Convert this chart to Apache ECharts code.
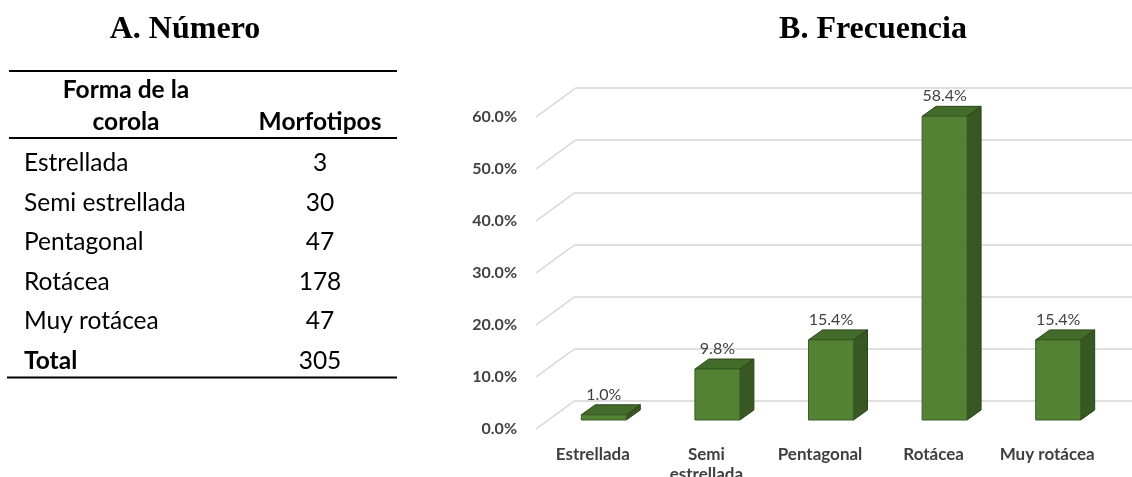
<!DOCTYPE html>
<html><head><meta charset="utf-8">
<script src="https://cdn.jsdelivr.net/npm/echarts@6/dist/echarts.min.js"></script>
<style>html,body{margin:0;padding:0;background:#fff}#c{width:1132px;height:477px}</style>
</head><body><div id="c"></div>
<script>
// ---- data ----
const titleA = 'A. Número';
const titleB = 'B. Frecuencia';
const tableHeaderForm = 'Forma de la\ncorola';
const tableHeaderCount = 'Morfotipos';
const tableForms = ['Estrellada', 'Semi estrellada', 'Pentagonal', 'Rotácea', 'Muy rotácea'];
const tableCounts = [3, 30, 47, 178, 47];
const totalLabel = 'Total';
const totalCount = 305;
const chartCategories = ['Estrellada', 'Semi\nestrellada', 'Pentagonal', 'Rotácea', 'Muy rotácea'];
const frequencies = [0.010, 0.098, 0.154, 0.584, 0.154];
const yTicks = [0, 0.1, 0.2, 0.3, 0.4, 0.5, 0.6];

// ---- layout / style ----
const SANS = 'Lato, "Open Sans", sans-serif';
const SERIF = '"Liberation Serif", "DejaVu Serif", serif';
const tableFont = 24.5;
const rowTop = 163.5, rowStep = 39.5;
const depthDX = 39, depthDY = 28.5;   // perspective of the walls
const barDX = 14, barDY = 10;         // bar depth

const chart = echarts.init(document.getElementById('c'), null, {renderer: 'canvas'});

const graphics = [];
// table rules
[[71, 9], [138, 9], [377.5, 7]].forEach(([y, x0]) => {
  graphics.push({type: 'line', shape: {x1: x0, y1: y, x2: 397, y2: y}, style: {stroke: '#000', lineWidth: 2}});
});
graphics.push({type: 'text', x: 126, y: 106, style: {text: tableHeaderForm, font: 'bold ' + tableFont + 'px ' + SANS, align: 'center', verticalAlign: 'middle', lineHeight: 32, fill: '#000'}});
graphics.push({type: 'text', x: 320, y: 122, style: {text: tableHeaderCount, font: 'bold ' + tableFont + 'px ' + SANS, align: 'center', verticalAlign: 'middle', fill: '#000'}});
tableForms.forEach((f, i) => {
  const y = rowTop + i * rowStep;
  graphics.push({type: 'text', x: 24, y: y, style: {text: f, font: tableFont + 'px ' + SANS, align: 'left', verticalAlign: 'middle', fill: '#000'}});
  graphics.push({type: 'text', x: 320, y: y, style: {text: String(tableCounts[i]), font: tableFont + 'px ' + SANS, align: 'center', verticalAlign: 'middle', fill: '#000'}});
});
{
  const y = rowTop + tableForms.length * rowStep;
  graphics.push({type: 'text', x: 24, y: y, style: {text: totalLabel, font: 'bold ' + tableFont + 'px ' + SANS, align: 'left', verticalAlign: 'middle', fill: '#000'}});
  graphics.push({type: 'text', x: 320, y: y, style: {text: String(totalCount), font: tableFont + 'px ' + SANS, align: 'center', verticalAlign: 'middle', fill: '#000'}});
}
graphics.push({type: 'text', x: 185, y: 30, style: {text: titleA, font: 'bold 32px ' + SERIF, align: 'center', verticalAlign: 'middle', fill: '#000'}});
graphics.push({type: 'text', x: 873, y: 30, style: {text: titleB, font: 'bold 32px ' + SERIF, align: 'center', verticalAlign: 'middle', fill: '#000'}});

const pct = v => (v * 100).toFixed(1) + '%';
const yBase = {type: 'value', min: 0, max: 0.6, interval: 0.1};

const option = {
  animation: false,
  backgroundColor: '#fff',
  graphic: graphics,
  grid: [
    {left: 575, right: 0, top: 88, height: 313, containLabel: false, outerBoundsMode: 'none'},     // back wall
    {left: 536, width: 568, top: 117, height: 312, containLabel: false, outerBoundsMode: 'none'},  // front plane
    {left: 547, width: 568, top: 108, height: 312, containLabel: false, outerBoundsMode: 'none'}   // bar plane
  ],
  xAxis: [
    {gridIndex: 0, type: 'value', min: 0, max: 1, show: false},
    {gridIndex: 1, type: 'category', data: chartCategories,
      axisLine: {show: false}, axisTick: {show: false},
      axisLabel: {color: '#404040', fontFamily: SANS, fontWeight: 'bold', fontSize: 17, margin: 16, lineHeight: 20, interval: 0, hideOverlap: false}},
    {gridIndex: 2, type: 'category', data: chartCategories, show: false}
  ],
  yAxis: [
    Object.assign({gridIndex: 0}, yBase, {
      axisLine: {show: false}, axisTick: {show: false}, axisLabel: {show: false},
      splitLine: {show: true, lineStyle: {color: '#d4d4d4', width: 1.5}}}),
    Object.assign({gridIndex: 1}, yBase, {
      axisLine: {show: false}, axisTick: {show: false}, splitLine: {show: false},
      axisLabel: {formatter: pct, color: '#404040', fontFamily: SANS, fontWeight: 'bold', fontSize: 16, margin: 19}}),
    Object.assign({gridIndex: 2}, yBase, {show: false})
  ],
  series: [
    {
      type: 'custom', xAxisIndex: 1, yAxisIndex: 1, silent: true, z: 1,
      data: yTicks.map(v => [0, v]),
      renderItem: (params, api) => {
        const p = api.coord([0, api.value(1)]);
        const x0 = params.coordSys.x;
        return {type: 'line', shape: {x1: x0, y1: p[1], x2: x0 + depthDX, y2: p[1] - depthDY},
          style: {stroke: '#d4d4d4', lineWidth: 1.5}};
      }
    },
    {
      type: 'custom', xAxisIndex: 2, yAxisIndex: 2, silent: true, z: 5,
      data: frequencies.map((v, i) => [i, v]),
      renderItem: (params, api) => {
        const i = api.value(0), v = api.value(1);
        const top = api.coord([i, v]);
        const base = api.coord([i, 0]);
        const w = api.size([1, 0])[0] * 0.396;
        const x0 = top[0] - w / 2, x1 = top[0] + w / 2, yt = top[1], yb = base[1];
        const edge = '#2a4519';
        return {type: 'group', children: [
          {type: 'polygon', shape: {points: [[x1, yt], [x1 + barDX, yt - barDY], [x1 + barDX, yb - barDY], [x1, yb]]},
            style: {fill: '#385723', stroke: edge, lineWidth: 1}},
          {type: 'polygon', shape: {points: [[x0, yt], [x0 + barDX, yt - barDY], [x1 + barDX, yt - barDY], [x1, yt]]},
            style: {fill: '#436c2b', stroke: edge, lineWidth: 1}},
          {type: 'rect', shape: {x: x0, y: yt, width: w, height: yb - yt},
            style: {fill: '#548235', stroke: '#3a5c25', lineWidth: 1}},
          {type: 'text', x: top[0], y: yt - 20,
            style: {text: pct(v), align: 'center', verticalAlign: 'middle', fill: '#404040',
              font: '16px ' + SANS}}
        ]};
      }
    }
  ]
};
chart.setOption(option);
</script>
</body></html>
